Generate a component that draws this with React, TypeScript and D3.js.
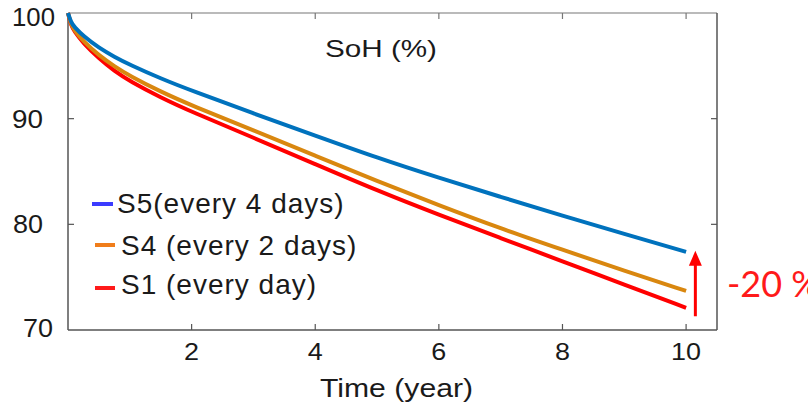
import React from "react";
import * as d3 from "d3";

const years = [0, 0.05, 0.1, 0.25, 0.5, 0.75, 1, 1.5, 2, 3, 4, 5, 6, 7, 8, 9, 10];
const s5Values = [100, 99.1, 98.7, 97.8, 96.7, 95.85, 95.1, 93.8, 92.65, 90.5, 88.4, 86.3, 84.4, 82.6, 80.8, 79.1, 77.4];
const s4Values = [100, 98.9, 98.4, 97.3, 96.0, 94.95, 94.05, 92.55, 91.25, 88.9, 86.5, 84.1, 81.8, 79.6, 77.6, 75.6, 73.7];
const s1Values = [100, 98.8, 98.3, 97.1, 95.7, 94.5, 93.55, 92.0, 90.65, 88.2, 85.7, 83.2, 80.9, 78.7, 76.5, 74.3, 72.1];

const seriesNames = ["S5(every 4 days)", "S4 (every 2 days)", "S1 (every day)"];
const xTicks = [2, 4, 6, 8, 10];
const yTicks = [100, 90, 80, 70];
const yTickLabels = ["100", "90", "80", "70"];
const title = "SoH (%)";
const xLabel = "Time (year)";
const annotation = "-20 %";

const W = 808, H = 405;
const plot = { left: 68, right: 717, top: 13, bottom: 330 };

export default function App() {
  const x = d3.scaleLinear().domain([0, 10.5]).range([plot.left, plot.right]);
  const y = d3.scaleLinear().domain([70, 100]).range([plot.bottom, plot.top]);

  const line = d3
    .line<number>()
    .x((_, i) => x(years[i]))
    .y((d) => y(d))
    .curve(d3.curveBasis);

  const lineColors = ["#0072BD", "#D9870F", "#FF0000"];
  const legendColors = ["#3B3BFF", "#F07D1A", "#FF1A1A"];
  const data = [s5Values, s4Values, s1Values];
  const drawOrder = [2, 1, 0];

  const font = "'Liberation Sans', Arial, sans-serif";
  const textColor = "#1a1a1a";
  const axisColor = "#555";

  const legendRows = [
    { lx1: 92, lx2: 113, ly: 204, tx: 117, ty: 213 },
    { lx1: 95, lx2: 115, ly: 245, tx: 121, ty: 255 },
    { lx1: 95, lx2: 115, ly: 288, tx: 121, ty: 294 },
  ];

  const yLabelX = [12, 12, 13, 23];
  const yLabelW = [43, 31, 30, 30];
  const yLabelDy = [13, 9, 9, 7];

  const arrowX = x(10.15);
  const arrowBottom = y(71.3);
  const arrowTip = y(77.5);

  return (
    <svg
      width={W}
      height={H}
      style={{ position: "absolute", left: 0, top: 0, background: "#fff" }}
      fontFamily={font}
    >
      <rect x={0} y={0} width={W} height={H} fill="#fff" />

      {/* frame */}
      <line x1={plot.left} x2={plot.right} y1={plot.top} y2={plot.top} stroke="#777" strokeWidth={1.2} />
      <line x1={plot.left} x2={plot.right} y1={plot.bottom} y2={plot.bottom} stroke={axisColor} strokeWidth={1.5} />
      <line x1={plot.left} x2={plot.left} y1={plot.top} y2={plot.bottom} stroke={axisColor} strokeWidth={1.5} />
      <line x1={plot.right} x2={plot.right} y1={plot.top} y2={plot.bottom} stroke={axisColor} strokeWidth={1.5} />

      {/* x ticks */}
      {xTicks.map((t) => (
        <g key={"xt" + t}>
          <line x1={x(t)} x2={x(t)} y1={plot.bottom} y2={plot.bottom - 6} stroke={axisColor} strokeWidth={1.2} />
          <line x1={x(t)} x2={x(t)} y1={plot.top} y2={plot.top + 6} stroke="#777" strokeWidth={1.2} />
          <text
            x={x(t) - (String(t).length * 15) / 2}
            y={360}
            fontSize={24}
            fill={textColor}
            textLength={String(t).length * 15}
            lengthAdjust="spacingAndGlyphs"
          >
            {t}
          </text>
        </g>
      ))}

      {/* y ticks */}
      {yTicks.map((v, i) => (
        <g key={"yt" + v}>
          {v > 70 && v < 100 && (
            <>
              <line x1={plot.left} x2={plot.left + 6} y1={y(v)} y2={y(v)} stroke={axisColor} strokeWidth={1.2} />
              <line x1={plot.right} x2={plot.right - 6} y1={y(v)} y2={y(v)} stroke={axisColor} strokeWidth={1.2} />
            </>
          )}
          <text
            x={yLabelX[i]}
            y={y(v) + yLabelDy[i]}
            fontSize={25}
            fill={textColor}
            textLength={yLabelW[i]}
            lengthAdjust="spacingAndGlyphs"
          >
            {yTickLabels[i]}
          </text>
        </g>
      ))}

      {/* series */}
      {drawOrder.map((k) => (
        <path
          key={"s" + k}
          d={line(data[k]) || ""}
          fill="none"
          stroke={lineColors[k]}
          strokeWidth={4}
          strokeLinecap="butt"
        />
      ))}

      {/* title */}
      <text x={325} y={57} fontSize={24} fill={textColor} textLength={112} lengthAdjust="spacingAndGlyphs">
        {title}
      </text>

      {/* legend */}
      {seriesNames.map((name, k) => (
        <g key={"lg" + k}>
          <line
            x1={legendRows[k].lx1}
            x2={legendRows[k].lx2}
            y1={legendRows[k].ly}
            y2={legendRows[k].ly}
            stroke={legendColors[k]}
            strokeWidth={4}
          />
          <text x={legendRows[k].tx} y={legendRows[k].ty} fontSize={28} letterSpacing={1} fill={textColor}>
            {name}
          </text>
        </g>
      ))}

      {/* x label */}
      <text x={320} y={397} fontSize={25} fill={textColor} textLength={153} lengthAdjust="spacingAndGlyphs">
        {xLabel}
      </text>

      {/* arrow annotation */}
      <line x1={arrowX} x2={arrowX} y1={arrowBottom} y2={arrowTip + 12} stroke="#FF0000" strokeWidth={3} />
      <path
        d={`M${arrowX},${arrowTip} L${arrowX - 6.5},${arrowTip + 15} L${arrowX + 6.5},${arrowTip + 15} Z`}
        fill="#FF0000"
      />
      <text x={727} y={297} fontSize={36} fill="#FF1A1A" fontFamily="Lato, 'Open Sans', sans-serif">
        {annotation}
      </text>
    </svg>
  );
}
